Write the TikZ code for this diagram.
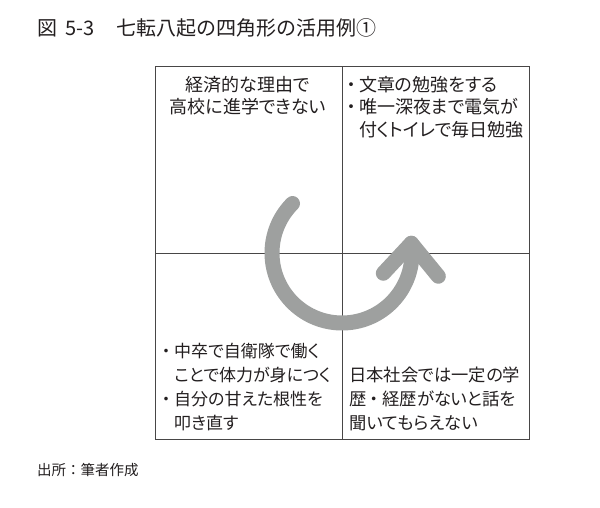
\documentclass[tikz,border=0pt]{standalone}
\usepackage{fontspec}
\setmainfont[RawFeature={+palt}]{Noto Sans CJK JP}
\newfontfamily\fullwidth{Noto Sans CJK JP}
\usepackage{xcolor}
\usepackage{tikz}

\definecolor{framegray}{RGB}{72,70,70}
\definecolor{turngray}{RGB}{158,160,159}
\definecolor{inkblack}{RGB}{35,31,32}

\newcommand{\dotmark}{\makebox[16pt]{\fullwidth ・}}

\tikzset{
  celltext/.style={inner sep=0pt, text=inkblack, font=\fontsize{18}{22.5}\selectfont, align=left},
  quadline/.style={draw=framegray, line width=1pt},
  turnarrow/.style={draw=turngray, line width=15pt, line cap=round, line join=round}
}

\begin{document}
\begin{tikzpicture}[x=1pt,y=1pt]
            \useasboundingbox[fill=white] (0,0) rectangle (600,507);

            \node[anchor=west, inner sep=0pt, text=inkblack, font=\fullwidth\fontsize{20}{20}\selectfont] (title) at (37,479) {図\hspace{8pt}5-3\hspace{22pt}七転八起の四角形の活用例①};

            \coordinate (nw) at (155,440);
            \coordinate (se) at (529,68);
            \coordinate (n) at (342,440);
            \coordinate (s) at (342,68);
            \coordinate (w) at (155,254);
            \coordinate (e) at (529,254);
            \coordinate (c) at (342,254);

            \draw[quadline] (nw) rectangle (se); % frame
            \draw[quadline] (n) -- (s); % vertical
            \draw[quadline] (w) -- (e); % horizontal

            \draw[turnarrow] (c) ++(135:70) arc[start angle=135, end angle=368, radius=70] coordinate (tip); % turn
            \draw[turnarrow] (tip) ++(-28,-30) -- (tip) -- ++(27,-33); % head

            \node[celltext, align=center, anchor=north] (reasonL) at (248,431) {経済的な理由で\\高校に進学できない};
            \node[celltext, anchor=north west] (studyR) at (343,431) {\dotmark 文章の勉強をする\\\dotmark 唯一深夜まで電気が\\\hphantom{\dotmark}付くトイレで毎日勉強};
            \node[celltext, font=\fontsize{17}{24}\selectfont, anchor=south west] (armyL) at (158,76) {\dotmark 中卒で自衛隊で働く\\\hphantom{\dotmark}ことで体力が身につく\\\dotmark 自分の甘えた根性を\\\hphantom{\dotmark}叩き直す};
            \node[celltext, font=\fontsize{17.3}{24}\selectfont, anchor=south west] (societyR) at (349,76) {日本社会では一定の学\\歴\dotmark 経歴がないと話を\\聞いてもらえない};

            \node[anchor=west, inner sep=0pt, text=inkblack, font=\fullwidth\fontsize{14.5}{14.5}\selectfont] (source) at (37,37) {出所：筆者作成};
        \end{tikzpicture}
\end{document}
